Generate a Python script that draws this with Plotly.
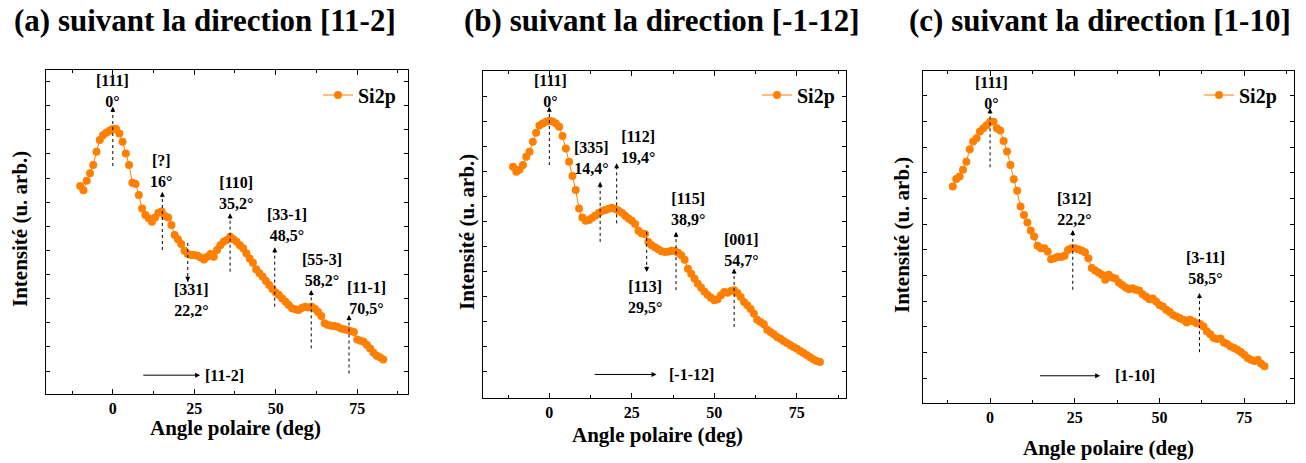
import plotly.graph_objects as go

FONT = "Liberation Serif, Times New Roman, serif"
ORANGE = "#FF7F00"

# ---------------- data ----------------
ang_a = [-10, -9, -8, -7, -6, -5, -4, -3, -2, -1, 0, 1, 2, 3, 4, 5, 6, 7, 8, 9,
         10, 11, 12, 13, 14, 15, 16, 17, 18, 19, 20, 21, 22, 23, 24, 25, 26, 27, 28, 29,
         30, 31, 32, 33, 34, 35, 36, 37, 38, 39, 40, 41, 42, 43, 44, 45, 46, 47, 48, 49,
         50, 51, 52, 53, 54, 55, 56, 57, 58, 59, 60, 61, 62, 63, 64, 65, 66, 67, 68, 69,
         70, 71, 72, 73, 74, 75, 76, 77, 78, 79, 80, 81, 82, 83]
int_a = [8.67, 8.50, 8.89, 9.20, 9.54, 10.09, 10.58, 10.78, 10.88, 10.96,
         11.03, 11.03, 10.85, 10.51, 10.02, 9.54, 8.81, 8.75, 8.30, 7.74,
         7.47, 7.33, 7.19, 7.37, 7.56, 7.61, 7.43, 7.37, 7.05, 6.64,
         6.46, 6.27, 5.99, 5.85, 5.81, 5.81, 5.78, 5.71, 5.63, 5.74,
         5.85, 5.74, 6.02, 6.22, 6.36, 6.43, 6.57, 6.46, 6.36, 6.22,
         6.09, 5.88, 5.67, 5.49, 5.22, 5.05, 4.91, 4.73, 4.57, 4.40,
         4.26, 4.15, 4.01, 3.87, 3.74, 3.60, 3.56, 3.53, 3.61, 3.67,
         3.64, 3.67, 3.58, 3.45, 3.28, 2.98, 2.91, 2.88, 2.87, 2.84,
         2.77, 2.73, 2.70, 2.66, 2.62, 2.31, 2.26, 2.22, 2.08, 1.94,
         1.76, 1.64, 1.57, 1.48]

ang_b = [-11, -10, -9, -8, -7, -6, -5, -4, -3, -2, -1, 0, 1, 2, 3, 4, 5, 6, 7, 8, 9,
         10, 11, 12, 13, 14, 15, 16, 17, 18, 19, 20, 21, 22, 23, 24, 25, 26, 27, 28, 29,
         30, 31, 32, 33, 34, 35, 36, 37, 38, 39, 40, 41, 42, 43, 44, 45, 46, 47, 48, 49,
         50, 51, 52, 53, 54, 55, 56, 57, 58, 59, 60, 61, 62, 63, 64, 65, 66, 67, 68, 69,
         70, 71, 72, 73, 74, 75, 76, 77, 78, 79, 80, 81, 82]
int_b = [9.20, 9.00, 9.09, 9.27, 9.60, 9.80, 10.20, 10.56, 10.85, 10.93, 11.00,
         11.04, 11.01, 10.93, 10.80, 10.43, 9.93, 9.40, 8.83, 8.27, 7.53,
         7.17, 7.04, 7.07, 7.16, 7.25, 7.35, 7.43, 7.47, 7.52, 7.56,
         7.51, 7.44, 7.36, 7.24, 7.13, 7.04, 6.91, 6.64, 6.53, 6.51,
         6.20, 6.07, 5.99, 5.91, 5.83, 5.80, 5.81, 5.85, 5.84, 5.77,
         5.67, 5.49, 5.13, 4.93, 4.73, 4.53, 4.37, 4.21, 4.08, 3.97,
         3.87, 3.91, 4.07, 4.20, 4.17, 4.24, 4.27, 4.16, 4.00, 3.80,
         3.67, 3.52, 3.33, 3.09, 3.00, 2.91, 2.69, 2.60, 2.51, 2.40,
         2.33, 2.24, 2.16, 2.08, 2.00, 1.93, 1.84, 1.76, 1.68, 1.59,
         1.51, 1.44, 1.40]

ang_c = [-11, -10, -9, -8, -7, -6, -5, -4, -3, -2, -1, 0, 1, 2, 3, 4, 5, 6, 7, 8, 9,
         10, 11, 12, 13, 14, 15, 16, 17, 18, 19, 20, 21, 22, 23, 24, 25, 26, 27, 28, 29,
         30, 31, 32, 33, 34, 35, 36, 37, 38, 39, 40, 41, 42, 43, 44, 45, 46, 47, 48, 49,
         50, 51, 52, 53, 54, 55, 56, 57, 58, 59, 60, 61, 62, 63, 64, 65, 66, 67, 68, 69,
         70, 71, 72, 73, 74, 75, 76, 77, 78, 79, 80, 81]
int_c = [8.46, 8.75, 8.85, 9.11, 9.43, 9.91, 10.21, 10.34, 10.60, 10.73, 10.85,
         10.97, 10.98, 10.73, 10.64, 10.23, 9.82, 9.30, 8.74, 8.30, 7.68,
         7.35, 7.06, 6.75, 6.51, 6.15, 6.06, 6.06, 5.93, 5.63, 5.67,
         5.73, 5.72, 5.76, 5.99, 6.06, 6.06, 6.02, 5.97, 5.90, 5.67,
         5.29, 5.19, 5.11, 5.02, 4.83, 5.02, 4.92, 4.88, 4.72, 4.63,
         4.53, 4.46, 4.50, 4.44, 4.41, 4.27, 4.18, 4.07, 4.10, 3.98,
         3.85, 3.79, 3.66, 3.57, 3.46, 3.40, 3.33, 3.27, 3.17, 3.27,
         3.20, 3.14, 3.11, 3.01, 2.81, 2.71, 2.56, 2.52, 2.54, 2.39,
         2.33, 2.23, 2.17, 2.10, 2.02, 1.91, 1.78, 1.71, 1.67, 1.71,
         1.56, 1.46]

series_name = "Si2p"
titles = ["(a) suivant la direction [11-2]",
          "(b) suivant la direction [-1-12]",
          "(c) suivant la direction [1-10]"]
x_title = "Angle polaire (deg)"
y_title = "Intensité (u. arb.)"
x_ticks = [0, 25, 50, 75]

# direction marks: label, arrow angle, tail, tip, label angle, label level
dir_a = dict(lab=["[111]<br>0°", "[?]<br>16°", "[331]<br>22,2°", "[110]<br>35,2°",
                  "[33-1]<br>48,5°", "[55-3]<br>58,2°", "[11-1]<br>70,5°"],
             ax=[0, 15.2, 23.0, 36.0, 49.7, 60.9, 72.5],
             tail=[9.50, 6.02, 6.31, 5.12, 3.67, 1.94, 0.90],
             tip=[11.96, 8.43, 4.70, 7.54, 6.13, 4.36, 3.32],
             lx=[0, 14.7, 24.2, 37.7, 53.4, 64.1, 78.0],
             ly=[12.59, 9.28, 3.93, 8.37, 7.07, 5.19, 4.01])
dir_b = dict(lab=["[111]<br>0°", "[335]<br>14,4°", "[112]<br>19,4°", "[113]<br>29,5°",
                  "[115]<br>38,9°", "[001]<br>54,7°"],
             ax=[0, 15.4, 20.4, 29.5, 38.4, 56.0],
             tail=[9.27, 6.20, 6.94, 6.60, 4.27, 2.80],
             tip=[11.60, 8.60, 9.34, 5.00, 6.60, 5.14],
             lx=[0.45, 12.8, 27.0, 29.0, 42.1, 58.1],
             ly=[12.22, 9.56, 10.01, 4.00, 7.52, 5.87])
dir_c = dict(lab=["[111]<br>0°", "[312]<br>22,2°", "[3-11]<br>58,5°"],
             ax=[0, 24.4, 61.8],
             tail=[9.21, 4.44, 2.01],
             tip=[11.51, 6.77, 4.31],
             lx=[0.3, 24.9, 63.5],
             ly=[12.11, 7.60, 5.29])

# in-plane azimuth arrow: label, start, end, level, label angle
azi_lab = ["[11-2]", "[-1-12]", "[1-10]"]
azi_start = [8.9, 13.3, 14.3]
azi_end = [26.8, 32.5, 32.5]
azi_lvl = [0.83, 0.90, 1.09]
azi_lx = [34.4, 43.2, 42.8]

# ---------------- layout geometry ----------------
W, H = 1306, 463
panels_px = [  # left, right, top, bottom in pixels
    (46, 408, 70, 394),
    (483, 846, 71, 398),
    (923, 1294, 71, 403),
]
x_ranges = [[-20.5, 90.6], [-20.1, 89.9], [-19.8, 89.7]]
y_ranges = [[0.05, 13.48], [-0.04, 13.03], [0.03, 12.96]]
title_pos = [(205, 20), (662, 20), (1100, 20)]
ytitle_pos = [(20, 229), (467, 232), (902, 235)]
xtitle_pos = [(236, 428), (657, 435), (1108, 448)]
legend_pos = [(318, 95), (757, 95), (1199, 95)]

fig = go.Figure()
series = [(ang_a, int_a), (ang_b, int_b), (ang_c, int_c)]
dirs = [dir_a, dir_b, dir_c]
legend_names = ["legend", "legend2", "legend3"]


def paper_text(text, px, py, size, angle=0):
    return dict(text="<b>%s</b>" % text, x=px / W, y=1 - py / H,
                xref="paper", yref="paper", xanchor="center", yanchor="middle",
                showarrow=False, textangle=angle,
                font=dict(family=FONT, size=size, color="black"))


annotations = []
shapes = []
for i, (xs, ys) in enumerate(series):
    sfx = "" if i == 0 else str(i + 1)
    fig.add_trace(go.Scatter(
        x=xs, y=ys, mode="lines+markers", name=series_name,
        xaxis="x" + sfx, yaxis="y" + sfx,
        line=dict(color=ORANGE, width=1),
        marker=dict(color=ORANGE, size=8),
        legend=legend_names[i], showlegend=True,
    ))
    l, r, t, b = panels_px[i]
    fig.layout["xaxis" + sfx] = dict(
        domain=[l / W, r / W], anchor="y" + sfx, range=x_ranges[i],
        showline=True, linecolor="black", linewidth=1.3, mirror="ticks",
        ticks="inside", ticklen=5, tickcolor="black", tickvals=x_ticks,
        tickfont=dict(family=FONT, size=16, color="black", weight="bold"),
        minor=dict(dtick=12.5, tick0=0, ticks="inside", ticklen=3, tickcolor="black"),
        showgrid=False, zeroline=False,
    )
    fig.layout["yaxis" + sfx] = dict(
        domain=[1 - b / H, 1 - t / H], anchor="x" + sfx, range=y_ranges[i],
        showline=True, linecolor="black", linewidth=1.3, mirror="ticks",
        ticks="inside", ticklen=4, tickcolor="black", dtick=1, tick0=0,
        showticklabels=False, showgrid=False, zeroline=False,
    )
    lx, ly = legend_pos[i]
    fig.layout[legend_names[i]] = dict(
        x=lx / W, y=1 - ly / H, xanchor="left", yanchor="middle",
        bgcolor="rgba(0,0,0,0)", borderwidth=0,
        font=dict(family=FONT, size=20, color="black", weight="bold"),
    )
    tx, ty = title_pos[i]
    annotations.append(paper_text(titles[i], tx, ty, 31))
    yx, yy = ytitle_pos[i]
    annotations.append(paper_text(y_title, yx, yy, 21, angle=-90))
    xx, xy = xtitle_pos[i]
    annotations.append(paper_text(x_title, xx, xy, 21))
    # direction marks
    d = dirs[i]
    for lab, ax, tail, tip, lxx, lyy in zip(d["lab"], d["ax"], d["tail"], d["tip"], d["lx"], d["ly"]):
        shapes.append(dict(type="line", xref="x" + sfx, yref="y" + sfx,
                           x0=ax, x1=ax, y0=tail, y1=tip,
                           line=dict(color="black", width=1, dash="dot")))
        up = tip > tail
        annotations.append(dict(x=ax, y=tip, xref="x" + sfx, yref="y" + sfx,
                                ax=0, ay=7 if up else -7, text="", showarrow=True,
                                arrowhead=2, arrowsize=1, arrowwidth=1, arrowcolor="black"))
        annotations.append(dict(x=lxx, y=lyy, xref="x" + sfx, yref="y" + sfx,
                                xanchor="center", yanchor="middle",
                                text="<b>%s</b>" % lab, showarrow=False, align="center",
                                font=dict(family=FONT, size=16, color="black")))
    # azimuth arrow
    annotations.append(dict(x=azi_end[i], y=azi_lvl[i], ax=azi_start[i], ay=azi_lvl[i],
                            xref="x" + sfx, yref="y" + sfx, axref="x" + sfx, ayref="y" + sfx,
                            text="", showarrow=True, arrowhead=2, arrowsize=1,
                            arrowwidth=1, arrowcolor="black"))
    annotations.append(dict(x=azi_lx[i], y=azi_lvl[i], xref="x" + sfx, yref="y" + sfx,
                            xanchor="center", yanchor="middle",
                            text="<b>%s</b>" % azi_lab[i], showarrow=False,
                            font=dict(family=FONT, size=16, color="black")))

fig.update_layout(
    width=W, height=H, margin=dict(l=0, r=0, t=0, b=0),
    paper_bgcolor="white", plot_bgcolor="white",
    annotations=annotations, shapes=shapes,
    font=dict(family=FONT, color="black"),
)

fig.write_html("out.html", config={"displayModeBar": False},
               post_script="document.body.style.margin='0';document.body.style.overflow='hidden';")
